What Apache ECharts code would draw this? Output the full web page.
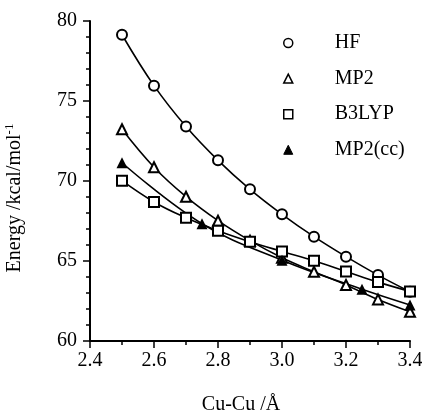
<!DOCTYPE html>
<html>
<head>
<meta charset="utf-8">
<script src="https://cdn.jsdelivr.net/npm/echarts@6/dist/echarts.min.js"></script>
<style>html,body{margin:0;padding:0;background:#fff}#c{width:422px;height:419px}</style>
</head>
<body>
<div id="c"></div>
<script>
const xMain = [2.5, 2.6, 2.7, 2.8, 2.9, 3.0, 3.1, 3.2, 3.3, 3.4];
const hfValues = [79.14, 75.96, 73.40, 71.29, 69.48, 67.92, 66.52, 65.27, 64.12, 63.08];
const mp2Values = [73.23, 70.86, 69.02, 67.52, 66.27, 65.20, 64.33, 63.50, 62.60, 61.83];
const b3lypValues = [70.02, 68.69, 67.70, 66.89, 66.20, 65.60, 65.02, 64.35, 63.68, 63.10];
const xCC = [2.5, 2.75, 3.0, 3.25, 3.4];
const mp2ccValues = [71.14, 67.33, 65.05, 63.23, 62.25];
const seriesNames = ['HF', 'MP2', 'B3LYP', 'MP2(cc)'];

const FONT = 'Liberation Serif';
const pairs = (xs, ys) => xs.map((x, i) => [x, ys[i]]);

function lineSeries(name, data, symbol, size) {
  return {
    name, type: 'line', data, smooth: 0.4,
    symbol, symbolSize: size, showAllSymbol: true,
    lineStyle: {color: '#000', width: 1.6},
    itemStyle: {color: '#000', borderWidth: 1.5},
    emphasis: {disabled: true}
  };
}

const chart = echarts.init(document.getElementById('c'), null, {renderer: 'canvas'});
chart.setOption({
  animation: false,
  backgroundColor: '#fff',
  grid: {left: 90, right: 12, top: 21, bottom: 78, containLabel: false, outerBoundsMode: 'none'},
  legend: {
    orient: 'vertical', left: 278, top: 28, itemGap: 15.6,
    itemWidth: 9, itemHeight: 9,
    textStyle: {fontFamily: FONT, fontSize: 20, color: '#000', lineHeight: 20, padding: [0, 0, 0, 37]},
    data: [
      {name: seriesNames[0], icon: 'circle', itemStyle: {color: '#fff', borderColor: '#000', borderWidth: 1.5}},
      {name: seriesNames[1], icon: 'triangle', itemStyle: {color: '#fff', borderColor: '#000', borderWidth: 1.5}},
      {name: seriesNames[2], icon: 'rect', itemStyle: {color: '#fff', borderColor: '#000', borderWidth: 1.5}},
      {name: seriesNames[3], icon: 'triangle', itemStyle: {color: '#000', borderColor: '#000', borderWidth: 1}}
    ]
  },
  xAxis: {
    type: 'value', min: 2.4, max: 3.4, interval: 0.2,
    name: 'Cu-Cu /Å', nameLocation: 'middle', nameGap: 54,
    nameTextStyle: {fontFamily: FONT, fontSize: 20, color: '#000', padding: [0, 18, 0, 0]},
    axisLine: {show: true, onZero: false, lineStyle: {color: '#000', width: 2}},
    axisTick: {show: true, length: 7, lineStyle: {color: '#000', width: 1.5}},
    minorTick: {show: true, splitNumber: 2, length: 4, lineStyle: {color: '#000', width: 1.5}},
    axisLabel: {fontFamily: FONT, fontSize: 20, color: '#000', margin: 10, formatter: v => v.toFixed(1)},
    splitLine: {show: false}
  },
  yAxis: {
    type: 'value', min: 60, max: 80, interval: 5,
    name: '{m|Energy /kcal/mol}{s|-1}', nameLocation: 'middle', nameGap: 64,
    nameTextStyle: {fontFamily: FONT, fontSize: 20, color: '#000', padding: [0, 34, 0, 0],
      rich: {m: {fontFamily: FONT, fontSize: 20, color: '#000'},
             s: {fontFamily: FONT, fontSize: 13, color: '#000', verticalAlign: 'bottom', padding: [0, 0, 10, 0]}}},
    axisLine: {show: true, onZero: false, lineStyle: {color: '#000', width: 2}},
    axisTick: {show: true, length: 7, lineStyle: {color: '#000', width: 1.5}},
    minorTick: {show: true, splitNumber: 5, length: 4, lineStyle: {color: '#000', width: 1.5}},
    axisLabel: {fontFamily: FONT, fontSize: 20, color: '#000', margin: 13},
    splitLine: {show: false}
  },
  series: [
    lineSeries(seriesNames[0], pairs(xMain, hfValues), 'emptyCircle', 10),
    lineSeries(seriesNames[1], pairs(xMain, mp2Values), 'emptyTriangle', 10),
    lineSeries(seriesNames[2], pairs(xMain, b3lypValues), 'emptyRect', 10),
    lineSeries(seriesNames[3], pairs(xCC, mp2ccValues), 'triangle', 11)
  ]
});
</script>
</body>
</html>
